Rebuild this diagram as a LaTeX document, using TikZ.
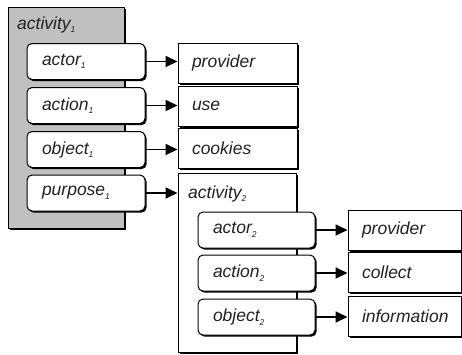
\documentclass[tikz,border=0pt]{standalone}
\usepackage{fontspec}
\setmainfont{Liberation Sans}
\usetikzlibrary{arrows.meta,shadows}
\newcommand\sbs[1]{\raisebox{-3.5pt}{\fontsize{8.5}{8.5}\selectfont #1}}
\definecolor{actgray}{HTML}{C0C0C0}
\definecolor{txt}{HTML}{222222}
\tikzset{
  shad/.style={drop shadow={shadow xshift=1.6pt,shadow yshift=-1.6pt,opacity=1,fill=black}},
  txtfont/.style={text=txt,font=\fontsize{17.5}{20}\selectfont\itshape},
  actbox/.style={draw=black,line width=1pt,shad,minimum width=#1,inner sep=0pt},
  rbox/.style={draw=black,line width=1pt,fill=white,rounded corners=5pt,shad,
     minimum height=36pt,text width=#1,inner xsep=15pt,inner ysep=0pt,align=left,txtfont},
  vbox/.style={draw=black,line width=1pt,fill=white,shad,
     minimum height=40pt,text width=#1,inner xsep=14pt,inner ysep=0pt,align=left,txtfont},
  lbl/.style={txtfont,inner sep=0pt,anchor=base west},
  arr/.style={line width=1.8pt,-{Triangle[length=12pt,width=11pt]}}
}
\begin{document}
\begin{tikzpicture}[x=1pt,y=-1pt]
\useasboundingbox (0,0) rectangle (462,354);
% activity 1
\node[actbox=116pt,minimum height=221pt,fill=actgray] (act1) at (66,117.5) {};
\node[lbl] (act1t) at (17,29) {activity\sbs{1}};
\node[rbox=88pt] (actor1) at (86,61.5) {actor\sbs{1}};
\node[rbox=88pt] (action1) at (86,105.5) {action\sbs{1}};
\node[rbox=88pt] (object1) at (86,149.5) {object\sbs{1}};
\node[rbox=88pt] (purpose1) at (86,193) {purpose\sbs{1}};
\node[vbox=91pt] (prov1) at (237.5,63) {provider};
\node[vbox=91pt] (use1) at (237.5,106) {use};
\node[vbox=91pt] (cook1) at (237.5,148.5) {cookies};
% activity 2
\node[actbox=118pt,minimum height=179pt,fill=white] (act2) at (237,262.5) {};
\node[lbl] (act2t) at (188,198) {activity\sbs{2}};
\node[rbox=87pt] (actor2) at (256.5,230) {actor\sbs{2}};
\node[rbox=87pt] (action2) at (256.5,273) {action\sbs{2}};
\node[rbox=87pt] (object2) at (256.5,317) {object\sbs{2}};
\node[vbox=85pt] (prov2) at (404.5,230) {provider};
\node[vbox=85pt] (coll2) at (404.5,272.5) {collect};
\node[vbox=85pt] (info2) at (404.5,316) {information};
% arrows
\draw[arr] (actor1.east) -- (prov1.west |- actor1.east);
\draw[arr] (action1.east) -- (use1.west |- action1.east);
\draw[arr] (object1.east) -- (cook1.west |- object1.east);
\draw[arr] (purpose1.east) -- (act2.west |- purpose1.east);
\draw[arr] (actor2.east) -- (prov2.west |- actor2.east);
\draw[arr] (action2.east) -- (coll2.west |- action2.east);
\draw[arr] (object2.east) -- (info2.west |- object2.east);
\end{tikzpicture}
\end{document}
